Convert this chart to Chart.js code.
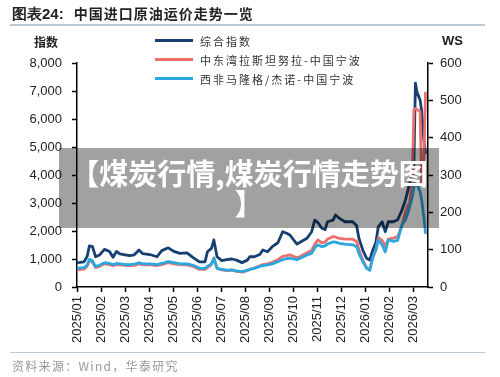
<!DOCTYPE html>
<html>
<head>
<meta charset="utf-8">
<script src="https://cdn.jsdelivr.net/npm/chart.js@4.4.1/dist/chart.umd.min.js"></script>
<style>
    body { margin: 0; background: #fff; }
    #page { position: relative; width: 500px; height: 377px; overflow: hidden; font-family: 'Noto Sans CJK SC', sans-serif; }
    #chart { position: absolute; left: 0; top: 0; }
    .title { position: absolute; left: 12px; top: 3px; font-size: 14px; font-weight: bold; color: #222; white-space: nowrap; }
    .title .num { font-family: 'Liberation Sans', Arial, sans-serif; font-size: 15px; }
    .title .txt { margin-left: 10px; letter-spacing: 1px; }
    .rule { position: absolute; left: 10px; width: 475px; background: #b9cad6; }
    .axis-name { position: absolute; font-weight: bold; font-size: 12px; color: #222; }
    .legend { position: absolute; left: 155px; top: 31px; }
    .legend-row { height: 19px; display: flex; align-items: center; font-size: 11px; color: #333; letter-spacing: 2px; }
    .legend-row i { display: inline-block; width: 38px; height: 3px; margin-right: 7px; }
    .source { position: absolute; left: 12px; top: 357px; font-size: 12px; color: #999; letter-spacing: 1.3px; }
    .banner { position: absolute; left: 59px; top: 148px; width: 380px; height: 80px; background: rgba(0,0,0,0.37); }
    .banner div { width: 362px; margin: 9px auto 0; text-align: center; color: #fff; font-weight: bold; font-size: 29px; line-height: 30px; line-break: anywhere; }
</style>
</head>
<body>
<div id="page">
    <canvas id="chart" width="500" height="377"></canvas>
    <div class="title"><span class="num">图表24:</span><span class="txt">中国进口原油运价走势一览</span></div>
    <div class="rule" style="top:24px;height:2px;"></div>
    <div class="axis-name" style="left:34px;top:33px;">指数</div>
    <div class="axis-name" style="left:442px;top:33px;font-family:'Liberation Sans',Arial,sans-serif;font-size:13px;">WS</div>
    <div class="legend" id="legend"></div>
    <div class="rule" style="top:352px;height:1px;"></div>
    <div class="source">资料来源：Wind，华泰研究</div>
    <div class="banner"><div>【煤炭行情,煤炭行情走势图】</div></div>
</div>
<script>
// Trading dates (approx)
const dates = [
    '2025-01-02','2025-01-05','2025-01-10','2025-01-14','2025-01-17','2025-01-21','2025-01-25','2025-01-30',
    '2025-02-05','2025-02-11','2025-02-15','2025-02-19','2025-02-23',
    '2025-03-03','2025-03-07','2025-03-13','2025-03-19','2025-03-24',
    '2025-04-02','2025-04-11','2025-04-17','2025-04-25',
    '2025-05-02','2025-05-10','2025-05-19','2025-05-27',
    '2025-06-04','2025-06-11','2025-06-14','2025-06-19','2025-06-22','2025-06-26',
    '2025-07-02','2025-07-08','2025-07-15','2025-07-21','2025-07-28',
    '2025-08-04','2025-08-07','2025-08-13','2025-08-20','2025-08-24','2025-08-30',
    '2025-09-05','2025-09-12','2025-09-18','2025-09-23','2025-09-27',
    '2025-10-06','2025-10-10','2025-10-19','2025-10-25','2025-10-29',
    '2025-11-02','2025-11-07','2025-11-11','2025-11-14','2025-11-21','2025-11-24','2025-11-29',
    '2025-12-06','2025-12-16','2025-12-21','2025-12-24','2025-12-29',
    '2026-01-03','2026-01-07','2026-01-11','2026-01-15','2026-01-18','2026-01-23','2026-01-27','2026-01-31',
    '2026-02-06','2026-02-11','2026-02-16','2026-02-20','2026-02-23','2026-02-25','2026-02-28',
    '2026-03-02','2026-03-04','2026-03-06','2026-03-10','2026-03-12','2026-03-15','2026-03-17'
];

// 综合指数 (left axis)
const compositeIndex = [
    870, 880, 900, 1080, 1465, 1440, 1080, 1140,
    1345, 1270, 1060, 1270, 1180,
    1140, 1120, 1150, 1320, 1190,
    1160, 1080, 1300, 1400,
    1270, 1200, 1220, 1050,
    900, 900, 1260, 1380, 1680, 1080,
    940, 980, 1000, 960, 870,
    960, 1080, 1080, 1160, 1320, 1260,
    1440, 1580, 1975, 1920, 1857,
    1530, 1600, 1740, 1975, 2390,
    2300, 2100, 2050, 2330, 2390, 2570, 2450,
    2330, 2330, 2200, 1740, 1320,
    1025, 965, 1320, 1600, 2150, 2330, 1975, 2330,
    2330, 2400, 2750, 3100, 3460, 3700, 3950,
    4400, 7280, 6960, 6680, 6300, 5200, 4800
];

// 中东湾拉斯坦努拉-中国宁波 (WS, right axis)
const middleEastWS = [
    46, 47, 48, 55, 72, 66, 52, 55,
    62, 60, 57, 60, 59,
    57, 57, 58, 62, 59,
    59, 57, 60, 65,
    62, 60, 59, 55,
    47, 47, 52, 60, 78, 50,
    46, 44, 45, 42, 40,
    44, 47, 51, 57, 60, 62,
    66, 73, 82, 84, 86,
    78, 82, 92, 98, 115,
    126, 118, 120, 128, 135, 134, 130,
    128, 128, 122, 100, 72,
    52, 46, 80, 100, 132, 125, 110, 128,
    131, 135, 165, 200, 220, 225, 290,
    474, 478, 476, 470, 279, 350, 520
];

// 西非马隆格/杰诺-中国宁波 (WS, right axis)
const westAfricaWS = [
    50, 51, 52, 58, 74, 70, 55, 58,
    65, 63, 60, 63, 62,
    60, 60, 61, 65, 62,
    62, 60, 63, 68,
    65, 62, 62, 58,
    50, 50, 55, 62, 77, 50,
    47, 45, 46, 43, 41,
    45, 47, 50, 55, 57, 59,
    62, 68, 73, 76, 77,
    73, 77, 86, 90, 105,
    113, 108, 110, 115, 121, 120, 117,
    115, 113, 108, 90, 68,
    50, 45, 80, 99, 126, 113, 94, 126,
    122, 125, 166, 180, 198, 215, 241,
    265, 290, 275, 255, 233, 185, 145
];

const monthLabels = [
    '2025/01','2025/02','2025/03','2025/04','2025/05','2025/06','2025/07','2025/08',
    '2025/09','2025/10','2025/11','2025/12','2026/01','2026/02','2026/03'
];

const seriesNames = ['综合指数', '中东湾拉斯坦努拉-中国宁波', '西非马隆格/杰诺-中国宁波'];
const seriesColors = ['#163f72', '#ec706c', '#2ba7df'];

// date string -> months since 2025/01
function monthPos(s) {
    const [y, m, d] = s.split('-').map(Number);
    const dim = new Date(y, m, 0).getDate();
    return (y - 2025) * 12 + (m - 1) + (d - 1) / dim;
}

function toPoints(values) {
    return values.map((v, i) => ({ x: monthPos(dates[i]), y: v }));
}

// legend
const legendEl = document.getElementById('legend');
seriesNames.forEach((name, i) => {
    const row = document.createElement('div');
    row.className = 'legend-row';
    row.innerHTML = `<i style="background:${seriesColors[i]}"></i>${name}`;
    legendEl.appendChild(row);
});

const tickFont = { family: "'Liberation Sans', Arial, sans-serif", size: 13 };

new Chart(document.getElementById('chart'), {
    type: 'line',
    data: {
        datasets: [
            { label: seriesNames[0], data: toPoints(compositeIndex), yAxisID: 'y', borderColor: seriesColors[0], order: 2 },
            { label: seriesNames[1], data: toPoints(middleEastWS), yAxisID: 'y1', borderColor: seriesColors[1], order: 1 },
            { label: seriesNames[2], data: toPoints(westAfricaWS), yAxisID: 'y1', borderColor: seriesColors[2], order: 0 }
        ]
    },
    options: {
        responsive: false,
        animation: false,
        layout: { padding: { left: 17, right: 22, top: 63, bottom: 25 } },
        elements: {
            line: { borderWidth: 2.8, tension: 0, borderCapStyle: 'round', borderJoinStyle: 'round' },
            point: { radius: 0 }
        },
        plugins: {
            legend: { display: false },
            tooltip: { enabled: false }
        },
        scales: {
            x: {
                type: 'linear',
                min: 0,
                max: 14.62,
                afterFit: scale => { scale.height = 65; },
                border: { display: true, color: '#000', width: 1.5 },
                grid: { drawOnChartArea: false, drawTicks: true, tickLength: 5, tickColor: '#000', tickWidth: 1.5 },
                ticks: {
                    stepSize: 1,
                    includeBounds: false,
                    autoSkip: false,
                    maxRotation: 90,
                    minRotation: 90,
                    padding: 4,
                    color: '#222',
                    font: tickFont,
                    callback: v => monthLabels[v] || ''
                }
            },
            y: {
                position: 'left',
                min: 0,
                max: 8000,
                afterFit: scale => { scale.width = 60; },
                border: { display: true, color: '#000', width: 1.5 },
                grid: { drawOnChartArea: false, drawTicks: true, tickLength: 5, tickColor: '#000', tickWidth: 1.5 },
                ticks: {
                    stepSize: 1000,
                    padding: 10,
                    color: '#222',
                    font: tickFont,
                    callback: v => v.toLocaleString('en-US')
                }
            },
            y1: {
                position: 'right',
                min: 0,
                max: 600,
                afterFit: scale => { scale.width = 50; },
                border: { display: true, color: '#000', width: 1.5 },
                grid: { drawOnChartArea: false, drawTicks: true, tickLength: 5, tickColor: '#000', tickWidth: 1.5 },
                ticks: {
                    stepSize: 100,
                    padding: 7,
                    color: '#222',
                    font: tickFont
                }
            }
        }
    }
});
</script>
</body>
</html>
